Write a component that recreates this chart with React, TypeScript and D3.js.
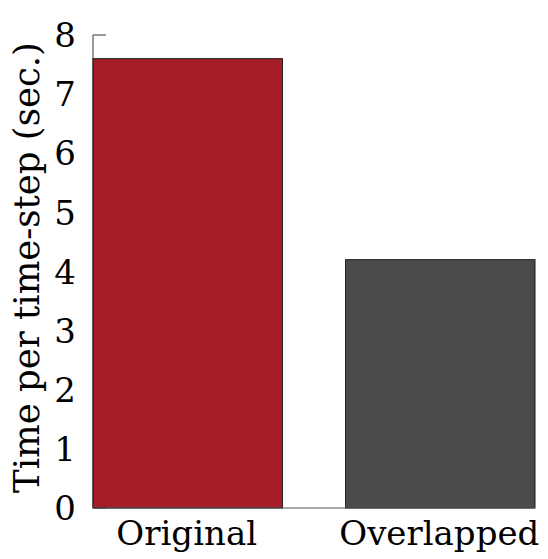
import React from "react";
import * as d3 from "d3";

const categories = ["Original", "Overlapped"];
const times = [7.6, 4.2];
const barColors = ["#a51e26", "#4b4b4b"];
const yTicks = [0, 1, 2, 3, 4, 5, 6, 7, 8];
const yLabel = "Time per time-step (sec.)";

const width = 548;
const height = 559;
const margin = { top: 35, right: 13, bottom: 51, left: 93 };
const font = "'DejaVu Serif', serif";

const App = () => {
  const x = d3
    .scaleBand()
    .domain(categories)
    .range([margin.left, width - margin.right])
    .paddingInner(0.25)
    .paddingOuter(0);

  const y = d3
    .scaleLinear()
    .domain([0, 8])
    .range([height - margin.bottom, margin.top]);

  const y0 = y(0);

  return (
    <svg
      width={width}
      height={height}
      style={{ position: "absolute", left: 0, top: 0, background: "#fff" }}
    >
      {/* left axis + inward ticks, under the bars */}
      <line x1={margin.left} x2={margin.left} y1={y(8)} y2={y0} stroke="#333" strokeWidth={1} />
      {yTicks.map((t) => (
        <line key={"tk" + t} x1={margin.left} x2={margin.left + 13} y1={y(t)} y2={y(t)} stroke="#333" strokeWidth={1} />
      ))}

      {categories.map((c, i) => (
        <rect
          key={c}
          x={x(c)}
          y={y(times[i])}
          width={x.bandwidth()}
          height={y0 - y(times[i])}
          fill={barColors[i]}
          stroke="#1a1a1a"
          strokeWidth={1}
        />
      ))}

      <line x1={margin.left} x2={width - margin.right} y1={y0} y2={y0} stroke="#555" strokeWidth={1.2} />

      {yTicks.map((t) => (
        <text
          key={"lb" + t}
          x={76}
          y={y(t)}
          dy="0.36em"
          textAnchor="end"
          fontFamily={font}
          fontSize={34}
          fill="#000"
        >
          {t}
        </text>
      ))}

      {categories.map((c) => (
        <text
          key={"xl" + c}
          x={(x(c) ?? 0) + x.bandwidth() / 2 - 1}
          y={545}
          textAnchor="middle"
          fontFamily={font}
          fontSize={34}
          fill="#000"
        >
          {c}
        </text>
      ))}

      <text
        transform={`translate(39,${(y(0) + y(8)) / 2 - 4}) rotate(-90)`}
        textAnchor="middle"
        fontFamily={font}
        fontSize={35.5}
        fill="#000"
      >
        {yLabel}
      </text>
    </svg>
  );
};

export default App;
